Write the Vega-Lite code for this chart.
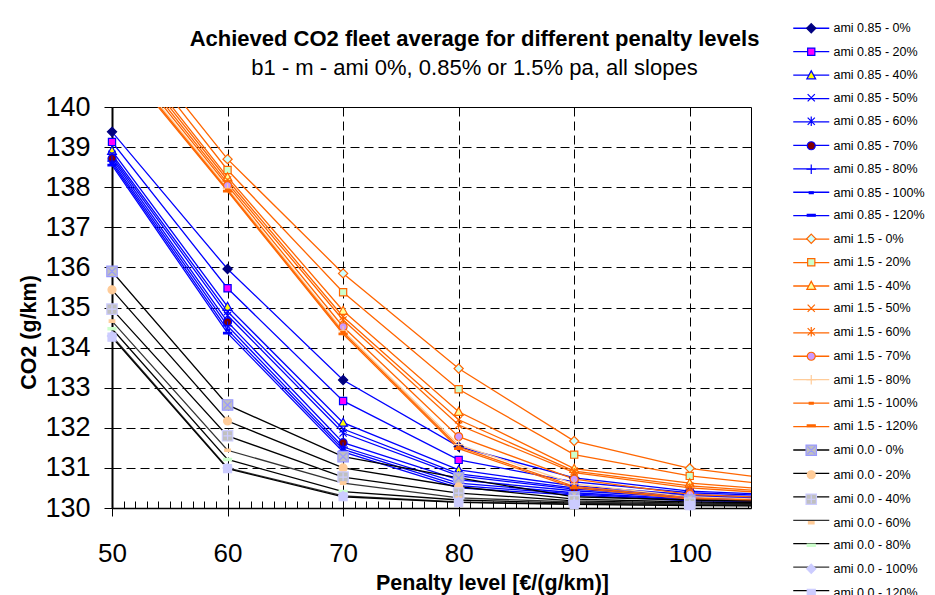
{
  "$schema": "https://vega.github.io/schema/vega-lite/v6.json",
  "width": 639,
  "height": 401,
  "autosize": {"type": "none"},
  "padding": {"left": 112, "top": 107, "right": 184, "bottom": 87},
  "background": "white",
  "config": {"font": "Liberation Sans", "view": {"stroke": "black", "strokeWidth": 1}},
  "title": {
    "text": "Achieved CO2 fleet average for different penalty levels",
    "subtitle": "b1 - m - ami 0%, 0.85% or 1.5% pa, all slopes",
    "anchor": "middle",
    "dx": 43,
    "offset": -58,
    "font": "Liberation Sans",
    "fontSize": 22,
    "fontWeight": "bold",
    "color": "black",
    "subtitleFont": "Liberation Sans",
    "subtitleFontSize": 22,
    "subtitleColor": "black",
    "subtitlePadding": 7
  },
  "data": {"values": [
    {"series": "ami 0.85 - 0%", "penalty": 50, "co2": 139.38}, {"series": "ami 0.85 - 0%", "penalty": 60, "co2": 135.96}, {"series": "ami 0.85 - 0%", "penalty": 70, "co2": 133.19}, {"series": "ami 0.85 - 0%", "penalty": 80, "co2": 131.53}, {"series": "ami 0.85 - 0%", "penalty": 90, "co2": 130.75}, {"series": "ami 0.85 - 0%", "penalty": 100, "co2": 130.42}, {"series": "ami 0.85 - 0%", "penalty": 110, "co2": 130.3},
    {"series": "ami 0.85 - 20%", "penalty": 50, "co2": 139.13}, {"series": "ami 0.85 - 20%", "penalty": 60, "co2": 135.48}, {"series": "ami 0.85 - 20%", "penalty": 70, "co2": 132.67}, {"series": "ami 0.85 - 20%", "penalty": 80, "co2": 131.2}, {"series": "ami 0.85 - 20%", "penalty": 90, "co2": 130.65}, {"series": "ami 0.85 - 20%", "penalty": 100, "co2": 130.38}, {"series": "ami 0.85 - 20%", "penalty": 110, "co2": 130.28},
    {"series": "ami 0.85 - 40%", "penalty": 50, "co2": 138.91}, {"series": "ami 0.85 - 40%", "penalty": 60, "co2": 135.02}, {"series": "ami 0.85 - 40%", "penalty": 70, "co2": 132.13}, {"series": "ami 0.85 - 40%", "penalty": 80, "co2": 130.95}, {"series": "ami 0.85 - 40%", "penalty": 90, "co2": 130.55}, {"series": "ami 0.85 - 40%", "penalty": 100, "co2": 130.33}, {"series": "ami 0.85 - 40%", "penalty": 110, "co2": 130.25},
    {"series": "ami 0.85 - 50%", "penalty": 50, "co2": 138.82}, {"series": "ami 0.85 - 50%", "penalty": 60, "co2": 134.9}, {"series": "ami 0.85 - 50%", "penalty": 70, "co2": 131.97}, {"series": "ami 0.85 - 50%", "penalty": 80, "co2": 130.85}, {"series": "ami 0.85 - 50%", "penalty": 90, "co2": 130.5}, {"series": "ami 0.85 - 50%", "penalty": 100, "co2": 130.3}, {"series": "ami 0.85 - 50%", "penalty": 110, "co2": 130.23},
    {"series": "ami 0.85 - 60%", "penalty": 50, "co2": 138.76}, {"series": "ami 0.85 - 60%", "penalty": 60, "co2": 134.8}, {"series": "ami 0.85 - 60%", "penalty": 70, "co2": 131.87}, {"series": "ami 0.85 - 60%", "penalty": 80, "co2": 130.8}, {"series": "ami 0.85 - 60%", "penalty": 90, "co2": 130.47}, {"series": "ami 0.85 - 60%", "penalty": 100, "co2": 130.28}, {"series": "ami 0.85 - 60%", "penalty": 110, "co2": 130.22},
    {"series": "ami 0.85 - 70%", "penalty": 50, "co2": 138.71}, {"series": "ami 0.85 - 70%", "penalty": 60, "co2": 134.64}, {"series": "ami 0.85 - 70%", "penalty": 70, "co2": 131.63}, {"series": "ami 0.85 - 70%", "penalty": 80, "co2": 130.7}, {"series": "ami 0.85 - 70%", "penalty": 90, "co2": 130.43}, {"series": "ami 0.85 - 70%", "penalty": 100, "co2": 130.25}, {"series": "ami 0.85 - 70%", "penalty": 110, "co2": 130.2},
    {"series": "ami 0.85 - 80%", "penalty": 50, "co2": 138.65}, {"series": "ami 0.85 - 80%", "penalty": 60, "co2": 134.54}, {"series": "ami 0.85 - 80%", "penalty": 70, "co2": 131.52}, {"series": "ami 0.85 - 80%", "penalty": 80, "co2": 130.62}, {"series": "ami 0.85 - 80%", "penalty": 90, "co2": 130.38}, {"series": "ami 0.85 - 80%", "penalty": 100, "co2": 130.22}, {"series": "ami 0.85 - 80%", "penalty": 110, "co2": 130.18},
    {"series": "ami 0.85 - 100%", "penalty": 50, "co2": 138.6}, {"series": "ami 0.85 - 100%", "penalty": 60, "co2": 134.44}, {"series": "ami 0.85 - 100%", "penalty": 70, "co2": 131.46}, {"series": "ami 0.85 - 100%", "penalty": 80, "co2": 130.56}, {"series": "ami 0.85 - 100%", "penalty": 90, "co2": 130.35}, {"series": "ami 0.85 - 100%", "penalty": 100, "co2": 130.2}, {"series": "ami 0.85 - 100%", "penalty": 110, "co2": 130.16},
    {"series": "ami 0.85 - 120%", "penalty": 50, "co2": 138.55}, {"series": "ami 0.85 - 120%", "penalty": 60, "co2": 134.36}, {"series": "ami 0.85 - 120%", "penalty": 70, "co2": 131.4}, {"series": "ami 0.85 - 120%", "penalty": 80, "co2": 130.5}, {"series": "ami 0.85 - 120%", "penalty": 90, "co2": 130.32}, {"series": "ami 0.85 - 120%", "penalty": 100, "co2": 130.18}, {"series": "ami 0.85 - 120%", "penalty": 110, "co2": 130.15},
    {"series": "ami 1.5 - 0%", "penalty": 50, "co2": 142.3}, {"series": "ami 1.5 - 0%", "penalty": 60, "co2": 138.7}, {"series": "ami 1.5 - 0%", "penalty": 70, "co2": 135.85}, {"series": "ami 1.5 - 0%", "penalty": 80, "co2": 133.48}, {"series": "ami 1.5 - 0%", "penalty": 90, "co2": 131.67}, {"series": "ami 1.5 - 0%", "penalty": 100, "co2": 130.99}, {"series": "ami 1.5 - 0%", "penalty": 110, "co2": 130.62},
    {"series": "ami 1.5 - 20%", "penalty": 50, "co2": 142.1}, {"series": "ami 1.5 - 20%", "penalty": 60, "co2": 138.43}, {"series": "ami 1.5 - 20%", "penalty": 70, "co2": 135.38}, {"series": "ami 1.5 - 20%", "penalty": 80, "co2": 132.96}, {"series": "ami 1.5 - 20%", "penalty": 90, "co2": 131.33}, {"series": "ami 1.5 - 20%", "penalty": 100, "co2": 130.8}, {"series": "ami 1.5 - 20%", "penalty": 110, "co2": 130.5},
    {"series": "ami 1.5 - 40%", "penalty": 50, "co2": 141.9}, {"series": "ami 1.5 - 40%", "penalty": 60, "co2": 138.25}, {"series": "ami 1.5 - 40%", "penalty": 70, "co2": 134.92}, {"series": "ami 1.5 - 40%", "penalty": 80, "co2": 132.4}, {"series": "ami 1.5 - 40%", "penalty": 90, "co2": 130.98}, {"series": "ami 1.5 - 40%", "penalty": 100, "co2": 130.62}, {"series": "ami 1.5 - 40%", "penalty": 110, "co2": 130.4},
    {"series": "ami 1.5 - 50%", "penalty": 50, "co2": 141.8}, {"series": "ami 1.5 - 50%", "penalty": 60, "co2": 138.18}, {"series": "ami 1.5 - 50%", "penalty": 70, "co2": 134.77}, {"series": "ami 1.5 - 50%", "penalty": 80, "co2": 132.2}, {"series": "ami 1.5 - 50%", "penalty": 90, "co2": 130.92}, {"series": "ami 1.5 - 50%", "penalty": 100, "co2": 130.55}, {"series": "ami 1.5 - 50%", "penalty": 110, "co2": 130.35},
    {"series": "ami 1.5 - 60%", "penalty": 50, "co2": 141.7}, {"series": "ami 1.5 - 60%", "penalty": 60, "co2": 138.1}, {"series": "ami 1.5 - 60%", "penalty": 70, "co2": 134.69}, {"series": "ami 1.5 - 60%", "penalty": 80, "co2": 132.07}, {"series": "ami 1.5 - 60%", "penalty": 90, "co2": 130.88}, {"series": "ami 1.5 - 60%", "penalty": 100, "co2": 130.5}, {"series": "ami 1.5 - 60%", "penalty": 110, "co2": 130.32},
    {"series": "ami 1.5 - 70%", "penalty": 50, "co2": 141.6}, {"series": "ami 1.5 - 70%", "penalty": 60, "co2": 138.04}, {"series": "ami 1.5 - 70%", "penalty": 70, "co2": 134.52}, {"series": "ami 1.5 - 70%", "penalty": 80, "co2": 131.78}, {"series": "ami 1.5 - 70%", "penalty": 90, "co2": 130.72}, {"series": "ami 1.5 - 70%", "penalty": 100, "co2": 130.34}, {"series": "ami 1.5 - 70%", "penalty": 110, "co2": 130.22},
    {"series": "ami 1.5 - 80%", "penalty": 50, "co2": 141.5}, {"series": "ami 1.5 - 80%", "penalty": 60, "co2": 137.97}, {"series": "ami 1.5 - 80%", "penalty": 70, "co2": 134.42}, {"series": "ami 1.5 - 80%", "penalty": 80, "co2": 131.58}, {"series": "ami 1.5 - 80%", "penalty": 90, "co2": 130.6}, {"series": "ami 1.5 - 80%", "penalty": 100, "co2": 130.28}, {"series": "ami 1.5 - 80%", "penalty": 110, "co2": 130.18},
    {"series": "ami 1.5 - 100%", "penalty": 50, "co2": 141.45}, {"series": "ami 1.5 - 100%", "penalty": 60, "co2": 137.93}, {"series": "ami 1.5 - 100%", "penalty": 70, "co2": 134.38}, {"series": "ami 1.5 - 100%", "penalty": 80, "co2": 131.52}, {"series": "ami 1.5 - 100%", "penalty": 90, "co2": 130.54}, {"series": "ami 1.5 - 100%", "penalty": 100, "co2": 130.25}, {"series": "ami 1.5 - 100%", "penalty": 110, "co2": 130.16},
    {"series": "ami 1.5 - 120%", "penalty": 50, "co2": 141.4}, {"series": "ami 1.5 - 120%", "penalty": 60, "co2": 137.9}, {"series": "ami 1.5 - 120%", "penalty": 70, "co2": 134.34}, {"series": "ami 1.5 - 120%", "penalty": 80, "co2": 131.48}, {"series": "ami 1.5 - 120%", "penalty": 90, "co2": 130.5}, {"series": "ami 1.5 - 120%", "penalty": 100, "co2": 130.22}, {"series": "ami 1.5 - 120%", "penalty": 110, "co2": 130.14},
    {"series": "ami 0.0 - 0%", "penalty": 50, "co2": 135.9}, {"series": "ami 0.0 - 0%", "penalty": 60, "co2": 132.57}, {"series": "ami 0.0 - 0%", "penalty": 70, "co2": 131.28}, {"series": "ami 0.0 - 0%", "penalty": 80, "co2": 130.75}, {"series": "ami 0.0 - 0%", "penalty": 90, "co2": 130.28}, {"series": "ami 0.0 - 0%", "penalty": 100, "co2": 130.2}, {"series": "ami 0.0 - 0%", "penalty": 110, "co2": 130.15},
    {"series": "ami 0.0 - 20%", "penalty": 50, "co2": 135.44}, {"series": "ami 0.0 - 20%", "penalty": 60, "co2": 132.17}, {"series": "ami 0.0 - 20%", "penalty": 70, "co2": 131.0}, {"series": "ami 0.0 - 20%", "penalty": 80, "co2": 130.53}, {"series": "ami 0.0 - 20%", "penalty": 90, "co2": 130.22}, {"series": "ami 0.0 - 20%", "penalty": 100, "co2": 130.15}, {"series": "ami 0.0 - 20%", "penalty": 110, "co2": 130.12},
    {"series": "ami 0.0 - 40%", "penalty": 50, "co2": 134.96}, {"series": "ami 0.0 - 40%", "penalty": 60, "co2": 131.8}, {"series": "ami 0.0 - 40%", "penalty": 70, "co2": 130.77}, {"series": "ami 0.0 - 40%", "penalty": 80, "co2": 130.37}, {"series": "ami 0.0 - 40%", "penalty": 90, "co2": 130.18}, {"series": "ami 0.0 - 40%", "penalty": 100, "co2": 130.12}, {"series": "ami 0.0 - 40%", "penalty": 110, "co2": 130.1},
    {"series": "ami 0.0 - 60%", "penalty": 50, "co2": 134.66}, {"series": "ami 0.0 - 60%", "penalty": 60, "co2": 131.44}, {"series": "ami 0.0 - 60%", "penalty": 70, "co2": 130.62}, {"series": "ami 0.0 - 60%", "penalty": 80, "co2": 130.25}, {"series": "ami 0.0 - 60%", "penalty": 90, "co2": 130.15}, {"series": "ami 0.0 - 60%", "penalty": 100, "co2": 130.1}, {"series": "ami 0.0 - 60%", "penalty": 110, "co2": 130.08},
    {"series": "ami 0.0 - 80%", "penalty": 50, "co2": 134.47}, {"series": "ami 0.0 - 80%", "penalty": 60, "co2": 131.21}, {"series": "ami 0.0 - 80%", "penalty": 70, "co2": 130.41}, {"series": "ami 0.0 - 80%", "penalty": 80, "co2": 130.2}, {"series": "ami 0.0 - 80%", "penalty": 90, "co2": 130.12}, {"series": "ami 0.0 - 80%", "penalty": 100, "co2": 130.08}, {"series": "ami 0.0 - 80%", "penalty": 110, "co2": 130.06},
    {"series": "ami 0.0 - 100%", "penalty": 50, "co2": 134.29}, {"series": "ami 0.0 - 100%", "penalty": 60, "co2": 131.0}, {"series": "ami 0.0 - 100%", "penalty": 70, "co2": 130.3}, {"series": "ami 0.0 - 100%", "penalty": 80, "co2": 130.15}, {"series": "ami 0.0 - 100%", "penalty": 90, "co2": 130.1}, {"series": "ami 0.0 - 100%", "penalty": 100, "co2": 130.07}, {"series": "ami 0.0 - 100%", "penalty": 110, "co2": 130.05},
    {"series": "ami 0.0 - 120%", "penalty": 50, "co2": 134.26}, {"series": "ami 0.0 - 120%", "penalty": 60, "co2": 130.98}, {"series": "ami 0.0 - 120%", "penalty": 70, "co2": 130.28}, {"series": "ami 0.0 - 120%", "penalty": 80, "co2": 130.14}, {"series": "ami 0.0 - 120%", "penalty": 90, "co2": 130.09}, {"series": "ami 0.0 - 120%", "penalty": 100, "co2": 130.06}, {"series": "ami 0.0 - 120%", "penalty": 110, "co2": 130.05}
  ]},
  "encoding": {
    "x": {
      "field": "penalty", "type": "quantitative",
      "scale": {"domain": [50, 105.3], "nice": false, "zero": false},
      "axis": {
        "values": [50,51,52,53,54,55,56,57,58,59,60,61,62,63,64,65,66,67,68,69,70,71,72,73,74,75,76,77,78,79,80,81,82,83,84,85,86,87,88,89,90,91,92,93,94,95,96,97,98,99,100,101,102,103,104,105],
        "labelExpr": "datum.value % 10 === 0 ? datum.label : ''",
        "format": "d",
        "labelFont": "Liberation Sans", "labelFontSize": 26, "labelColor": "black",
        "labelPadding": 24, "labelFlush": false, "labelOverlap": false,
        "tickColor": "black",
        "tickSize": {"condition": {"test": "datum.value % 10 === 0", "value": 8}, "value": -7},
        "domainColor": "black", "domainWidth": 1.5,
        "grid": true, "gridColor": "black", "gridDash": [9, 5], "gridWidth": 1,
        "gridOpacity": {"condition": {"test": "datum.value % 10 === 0 && datum.value > 50", "value": 1}, "value": 0},
        "title": "Penalty level [€/(g/km)]",
        "titleFont": "Liberation Sans", "titleFontSize": 21.5, "titleFontWeight": "bold", "titleColor": "black",
        "titleX": 380, "titleY": 81, "titleBaseline": "alphabetic", "titleAlign": "center"
      }
    },
    "y": {
      "field": "co2", "type": "quantitative",
      "scale": {"domain": [130, 140], "nice": false, "zero": false},
      "axis": {
        "values": [130,131,132,133,134,135,136,137,138,139,140],
        "format": "d",
        "labelFont": "Liberation Sans", "labelFontSize": 27, "labelColor": "black",
        "labelPadding": 14, "labelOverlap": false,
        "tickColor": "black", "tickSize": 8,
        "domainColor": "black", "domainWidth": 2,
        "grid": true, "gridColor": "black", "gridDash": [9, 5], "gridWidth": 1,
        "gridOpacity": {"condition": {"test": "datum.value > 130 && datum.value < 140", "value": 1}, "value": 0},
        "title": "CO2 (g/km)",
        "titleFont": "Liberation Sans", "titleFontSize": 21.5, "titleFontWeight": "bold", "titleColor": "black",
        "titleX": -77, "titleY": 225, "titleBaseline": "alphabetic", "titleAlign": "center", "titleAngle": -90
      }
    }
  },
  "layer": [
    {
      "mark": {"type": "line", "clip": true, "strokeWidth": 1.3},
      "encoding": {
        "color": {
          "field": "series", "type": "nominal", "sort": null,
          "scale": {"range": ["#0000FF","#0000FF","#0000FF","#0000FF","#0000FF","#0000FF","#0000FF","#0000FF","#0000FF","#FF6600","#FF6600","#FF6600","#FF6600","#FF6600","#FF6600","#FFCC99","#FF6600","#FF6600","#000000","#000000","#000000","#333333","#000000","#333333","#000000"]},
          "legend": {
            "orient": "none", "legendX": 693, "legendY": -85, "title": null, "padding": 0,
            "rowPadding": 10.43, "gridAlign": "all", "symbolType": "M-4.5,0H4.5", "symbolSize": 64, "symbolStrokeWidth": 1.3,
            "labelFont": "Liberation Sans", "labelFontSize": 12.5, "labelColor": "black", "labelOpacity": 0,
            "labelOffset": 16, "labelLimit": 300
          }
        }
      }
    },
    {
      "transform": [
        {"filter": "datum.penalty <= 105.3 && datum.co2 <= 140"},
        {"calculate": "datum.series", "as": "marker"}
      ],
      "mark": {"type": "point", "size": 64, "opacity": 1, "strokeWidth": 1.2},
      "encoding": {
        "shape": {
          "field": "marker", "type": "nominal", "sort": null,
          "scale": {"range": [
            "M0,-1.15L1.15,0L0,1.15L-1.15,0Z", "M-0.9,-0.9H0.9V0.9H-0.9Z", "M0,-1.1L1.1,0.9H-1.1Z", "M-0.9,-0.9L0.9,0.9M-0.9,0.9L0.9,-0.9", "M-0.9,-0.9L0.9,0.9M-0.9,0.9L0.9,-0.9M0,-1.2V1.2", "circle", "M-1.2,0H1.2M0,-1.2V1.2", "M-0.5,-0.2H0.5V0.2H-0.5Z", "M-1,-0.2H1V0.2H-1Z",
            "M0,-1.15L1.15,0L0,1.15L-1.15,0Z", "M-0.9,-0.9H0.9V0.9H-0.9Z", "M0,-1.1L1.1,0.9H-1.1Z", "M-0.9,-0.9L0.9,0.9M-0.9,0.9L0.9,-0.9", "M-0.9,-0.9L0.9,0.9M-0.9,0.9L0.9,-0.9M0,-1.2V1.2", "circle", "M-1.2,0H1.2M0,-1.2V1.2", "M-0.5,-0.2H0.5V0.2H-0.5Z", "M-1,-0.2H1V0.2H-1Z",
            "M-1.3,-1.3H1.3V1.3H-1.3ZM-0.95,-0.95L0.95,0.95M-0.95,0.95L0.95,-0.95", "circle", "M-1.3,-1.3H1.3V1.3H-1.3ZM-1,0H1M0,-1V1", "M-0.7,-0.3H0.7V0.3H-0.7Z", "M-1,-0.3H1V0.3H-1Z", "M0,-1.15L1.15,0L0,1.15L-1.15,0Z", "M-1,-1H1V1H-1Z"
          ]},
          "legend": {
            "orient": "none", "legendX": 693, "legendY": -85, "title": null, "padding": 0,
            "rowPadding": 9.5, "symbolSize": 64, "symbolStrokeWidth": 1.2, "symbolOpacity": 1,
            "labelFont": "Liberation Sans", "labelFontSize": 12.5, "labelColor": "black",
            "labelOffset": 16, "labelLimit": 300
          }
        },
        "fill": {
          "field": "marker", "type": "nominal", "sort": null,
          "scale": {"range": ["#000080","#FF00FF","#FFFF00","#0000FF","#0000FF","#800000","#0000FF","#0000FF","#0000FF","#CCFFFF","#CCFFCC","#FFFF99","#FF6600","#FF6600","#CC99FF","#FFCC99","#FF6600","#FF6600","#C0C0C0","#FFCC99","#C0C0C0","#FFCC99","#CCFFCC","#CCCCFF","#CCCCFF"]},
          "legend": {
            "orient": "none", "legendX": 693, "legendY": -85, "title": null, "padding": 0,
            "rowPadding": 9.5, "symbolSize": 64, "symbolStrokeWidth": 1.2, "symbolOpacity": 1,
            "labelFont": "Liberation Sans", "labelFontSize": 12.5, "labelColor": "black",
            "labelOffset": 16, "labelLimit": 300
          }
        },
        "stroke": {
          "field": "marker", "type": "nominal", "sort": null,
          "scale": {"range": ["#000080","#0000FF","#0000FF","#0000FF","#0000FF","#0000FF","#0000FF","#0000FF","#0000FF","#FF6600","#FF6600","#FF6600","#FF6600","#FF6600","#FF6600","#FFCC99","#FF6600","#FF6600","#9999FF","#FFCC99","#CCCCFF","#FFCC99","#CCFFCC","#CCCCFF","#CCCCFF"]},
          "legend": {
            "orient": "none", "legendX": 693, "legendY": -85, "title": null, "padding": 0,
            "rowPadding": 9.5, "symbolSize": 64, "symbolStrokeWidth": 1.2, "symbolOpacity": 1,
            "labelFont": "Liberation Sans", "labelFontSize": 12.5, "labelColor": "black",
            "labelOffset": 16, "labelLimit": 300
          }
        }
      }
    }
  ]
}
